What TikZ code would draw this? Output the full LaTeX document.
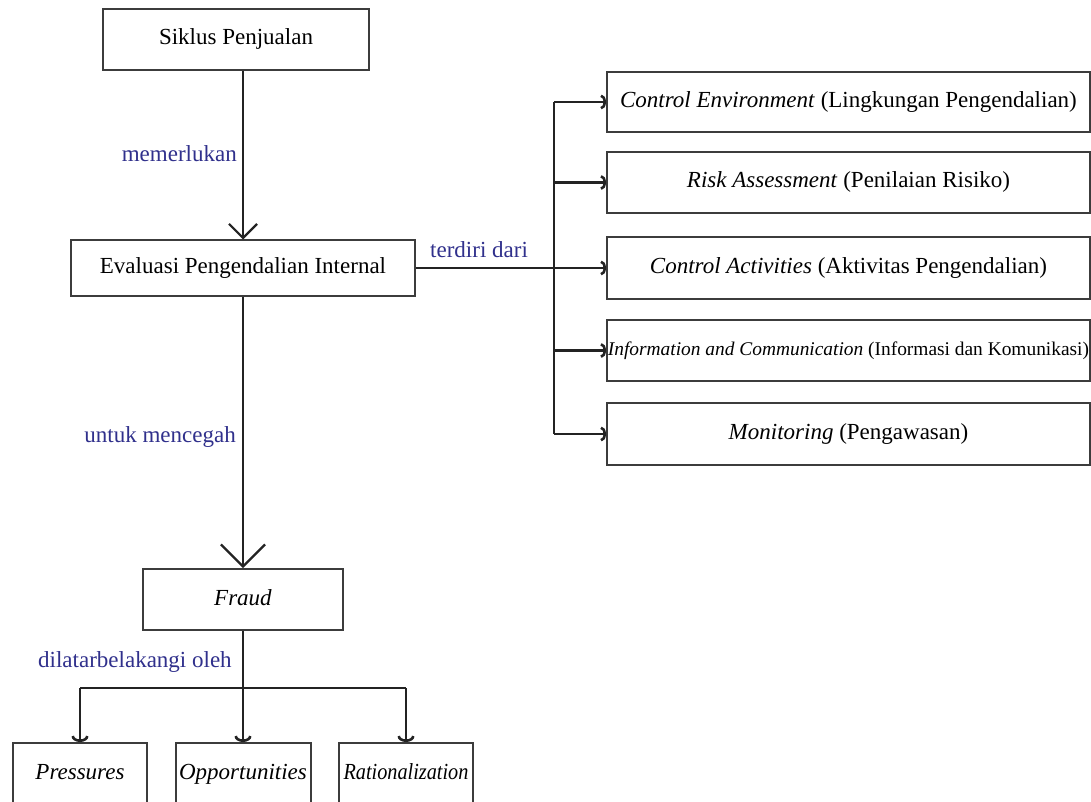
\documentclass[tikz,border=0pt]{standalone}
\usepackage{fontspec}
\setmainfont{Liberation Serif}
\usetikzlibrary{arrows.meta}
\definecolor{lblc}{RGB}{48,48,140}
\definecolor{boxc}{RGB}{60,60,60}
\definecolor{linec}{RGB}{35,35,35}
\begin{document}
\begin{tikzpicture}[x=1pt,y=-1pt,
  box/.style={draw=boxc, line width=2pt, rectangle, inner sep=0pt,
    font=\fontsize{23}{27}\selectfont, text height=16pt, text depth=5pt, align=center},
  lbl/.style={text=lblc, font=\fontsize{23}{27}\selectfont, inner sep=0pt},
  conn/.style={draw=linec, line width=2.6pt},
  bigtip/.style={-{Straight Barb[length=14pt,width=28pt,line width=2.2pt]}},
  hugetip/.style={-{Straight Barb[length=22pt,width=44pt,line width=2.2pt]}},
  smalltip/.style={-{Arc Barb[length=5pt,width=15pt,line width=2.6pt]}},
  downtip/.style={-{Arc Barb[length=6pt,width=17pt,line width=2.6pt]}}
]
\useasboundingbox (0,0) rectangle (1091,802);
\fill[white] (0,0) rectangle (1091,802);

% main column
\node[box, minimum width=266pt, minimum height=61pt] (sik) at (236,39.5) {Siklus Penjualan};
\node[box, minimum width=344pt, minimum height=55pt] (eval) at (243,268) {Evaluasi Pengendalian Internal};
\node[box, minimum width=200pt, minimum height=61pt] (fraud) at (243,599.5) {\textit{Fraud}};

% right column
\node[box, minimum width=483pt, minimum height=60pt] (ce) at (848.5,102) {\textit{Control Environment} (Lingkungan Pengendalian)};
\node[box, minimum width=483pt, minimum height=61pt] (ra) at (848.5,182.5) {\textit{Risk Assessment} (Penilaian Risiko)};
\node[box, minimum width=483pt, minimum height=61pt] (ca) at (848.5,268) {\textit{Control Activities} (Aktivitas Pengendalian)};
\node[box, minimum width=483pt, minimum height=61pt, font=\fontsize{19.4}{23}\selectfont, text height=13.5pt, text depth=4.2pt] (ic) at (848.5,350.5) {\textit{Information and Communication} (Informasi dan Komunikasi)};
\node[box, minimum width=483pt, minimum height=62pt] (mon) at (848.5,434) {\textit{Monitoring} (Pengawasan)};

% bottom row
\node[box, minimum width=134pt, minimum height=62pt, anchor=north] (press) at (80,742) {\textit{Pressures}};
\node[box, minimum width=135pt, minimum height=62pt, anchor=north] (opp) at (243,742) {\textit{Opportunities}};
\node[box, minimum width=134pt, minimum height=62pt, anchor=north] (rat) at (406,742) {\scalebox{0.88}[1]{\textit{Rationalization}}};

% labels
\node[lbl, anchor=base east] (l1) at (237,162) {memerlukan};
\node[lbl, anchor=base west] (l2) at (430,258) {terdiri dari};
\node[lbl, anchor=base east] (l3) at (236,442) {untuk mencegah};
\node[lbl, anchor=base west] (l4) at (38,667) {dilatarbelakangi oleh};

% connectors
\coordinate (bus) at (554,0);
\coordinate (bar) at (0,688);
\draw[conn, bigtip] (eval.north |- sik.south) -- (eval.north);
\draw[conn, hugetip] (eval.south) -- (fraud.north);

\draw[conn, smalltip] (eval.east) -- (ca.west);
\draw[conn] (bus |- ce.west) -- (bus |- mon.west);
\draw[conn, smalltip] (bus |- ce.west) -- (ce.west);
\draw[conn, smalltip] (bus |- ra.west) -- (ra.west);
\draw[conn, smalltip] (bus |- ic.west) -- (ic.west);
\draw[conn, smalltip] (bus |- mon.west) -- (mon.west);

\draw[conn, downtip] (fraud.south) -- (opp.north);
\draw[conn] (press.north |- bar) -- (rat.north |- bar);
\draw[conn, downtip] (press.north |- bar) -- (press.north);
\draw[conn, downtip] (rat.north |- bar) -- (rat.north);
\end{tikzpicture}
\end{document}
